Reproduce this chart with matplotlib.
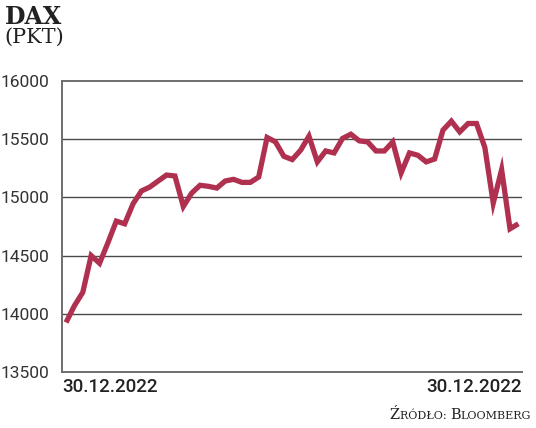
import matplotlib.pyplot as plt
from matplotlib.ticker import FixedLocator

# DAX daily closes
dax = [13925, 14069, 14184, 14500, 14434, 14610, 14796, 14773, 14945, 15055,
       15089, 15141, 15192, 15184, 14922, 15037, 15104, 15095, 15080, 15141,
       15155, 15129, 15129, 15175, 15515, 15477, 15353, 15325, 15405, 15526,
       15305, 15399, 15382, 15506, 15543, 15486, 15477, 15399, 15399, 15477,
       15210, 15382, 15362, 15305, 15330, 15578, 15655, 15563, 15635, 15635,
       15428, 14951, 15239, 14730, 14773]
y_ticks = [13500, 14000, 14500, 15000, 15500, 16000]
date_labels = ['30.12.2022', '30.12.2022']

line_color = '#b03050'
text_color = '#222222'

fig = plt.figure(figsize=(5.36, 4.28), dpi=100)
ax = fig.add_axes([0.1157, 0.131, 0.8583, 0.6797])

x = list(range(len(dax)))
ax.plot(x, dax, color=line_color, lw=3.8, solid_joinstyle='miter',
        solid_capstyle='butt', zorder=3)

ax.set_xlim(-0.48, len(dax) - 1 + 0.44)
ax.set_ylim(13500, 16000)
ax.yaxis.set_major_locator(FixedLocator(y_ticks))
ax.set_xticks([])
ax.tick_params(axis='y', length=0, pad=9, labelsize=12.5, labelcolor='#333333')
for lab in ax.get_yticklabels():
    lab.set_fontfamily('Roboto')

for v in y_ticks[1:-1]:
    ax.axhline(v, color='#4a4a4a', lw=1.0, zorder=1)

ax.spines['right'].set_visible(False)
for side in ['left', 'top', 'bottom']:
    ax.spines[side].set_color('#6e6e6e')
    ax.spines[side].set_linewidth(1.4)

# date labels under the axis
ax.text(0.0, -0.02, date_labels[0], transform=ax.transAxes, ha='left', va='top',
        fontsize=13.5, fontfamily='Roboto', fontweight='medium', color=text_color)
ax.text(1.0, -0.02, date_labels[1], transform=ax.transAxes, ha='right', va='top',
        fontsize=13.5, fontfamily='Roboto', fontweight='medium', color=text_color)

# title
fig.text(0.009, 0.988, 'DAX', ha='left', va='top', fontsize=17,
         fontfamily='DejaVu Serif', fontweight='bold', color=text_color)
fig.text(0.009, 0.935, '(PKT)', ha='left', va='top', fontsize=15,
         fontfamily='DejaVu Serif', color=text_color)

# source in small caps, built right to left
parts = [('Ź', 10.5), ('RÓDŁO: ', 8), ('B', 10.5), ('LOOMBERG', 8)]
renderer = fig.canvas.get_renderer()
right = 531 / 536
base_y = 0.022
for txt, sz in reversed(parts):
    t = fig.text(right, base_y, txt, ha='right', va='baseline', fontsize=sz,
                 fontfamily='DejaVu Serif', color=text_color)
    bb = t.get_window_extent(renderer)
    right = bb.x0 / fig.bbox.width

fig.savefig('out.png', dpi=100)
